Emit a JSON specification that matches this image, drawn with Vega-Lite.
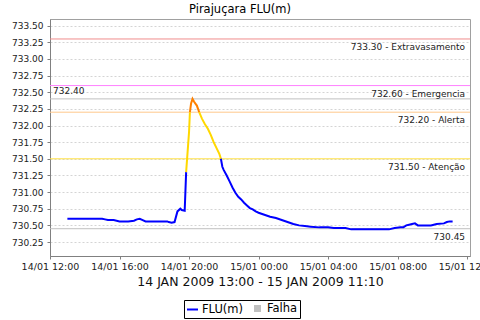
{
  "$schema": "https://vega.github.io/schema/vega-lite/v6.json",
  "width": 420,
  "height": 237,
  "autosize": {"type": "none"},
  "padding": {"left": 50, "top": 19, "right": 10, "bottom": 64},
  "background": "white",
  "title": {"text": "Pirajuçara FLU(m)", "font": "DejaVu Sans", "fontSize": 11.5, "fontWeight": "normal", "color": "#000000", "offset": 4, "dx": -20},
  "config": {
    "view": {"stroke": "#a0a0a0"},
    "axis": {"labelFont": "DejaVu Sans", "labelColor": "#222222", "titleFont": "DejaVu Sans", "titleColor": "#111111", "titleFontWeight": "normal", "domainColor": "#808080", "tickColor": "#808080", "tickSize": 3, "gridColor": "#d4d4d4", "gridDash": [2, 2], "labelOverlap": false},
    "axisY": {"labelFontSize": 9, "labelPadding": 4, "labelFlush": false, "tickCount": 20}
  },
  "datasets": {
    "limites": [
      {"valor": 733.30, "limite": "Extravasamento", "rotulo": "733.30 - Extravasamento"},
      {"valor": 732.60, "limite": "Emergencia", "rotulo": "732.60 - Emergencia"},
      {"valor": 732.40, "limite": "Máximo", "rotulo": "732.40"},
      {"valor": 732.20, "limite": "Alerta", "rotulo": "732.20 - Alerta"},
      {"valor": 731.50, "limite": "Atenção", "rotulo": "731.50 - Atenção"},
      {"valor": 730.45, "limite": "Mínimo", "rotulo": "730.45"}
    ],
    "serie": [
      {"t": "2009-01-14T13:00", "v": 730.60, "trecho": "a", "nivel": "Normal"},
      {"t": "2009-01-14T13:30", "v": 730.60, "trecho": "a", "nivel": "Normal"},
      {"t": "2009-01-14T14:00", "v": 730.60, "trecho": "a", "nivel": "Normal"},
      {"t": "2009-01-14T14:30", "v": 730.60, "trecho": "a", "nivel": "Normal"},
      {"t": "2009-01-14T15:00", "v": 730.60, "trecho": "a", "nivel": "Normal"},
      {"t": "2009-01-14T15:10", "v": 730.59, "trecho": "a", "nivel": "Normal"},
      {"t": "2009-01-14T15:20", "v": 730.58, "trecho": "a", "nivel": "Normal"},
      {"t": "2009-01-14T15:40", "v": 730.58, "trecho": "a", "nivel": "Normal"},
      {"t": "2009-01-14T15:50", "v": 730.57, "trecho": "a", "nivel": "Normal"},
      {"t": "2009-01-14T16:00", "v": 730.56, "trecho": "a", "nivel": "Normal"},
      {"t": "2009-01-14T16:30", "v": 730.56, "trecho": "a", "nivel": "Normal"},
      {"t": "2009-01-14T16:50", "v": 730.57, "trecho": "a", "nivel": "Normal"},
      {"t": "2009-01-14T17:00", "v": 730.59, "trecho": "a", "nivel": "Normal"},
      {"t": "2009-01-14T17:10", "v": 730.60, "trecho": "a", "nivel": "Normal"},
      {"t": "2009-01-14T17:20", "v": 730.58, "trecho": "a", "nivel": "Normal"},
      {"t": "2009-01-14T17:30", "v": 730.56, "trecho": "a", "nivel": "Normal"},
      {"t": "2009-01-14T18:00", "v": 730.56, "trecho": "a", "nivel": "Normal"},
      {"t": "2009-01-14T18:30", "v": 730.56, "trecho": "a", "nivel": "Normal"},
      {"t": "2009-01-14T18:45", "v": 730.56, "trecho": "a", "nivel": "Normal"},
      {"t": "2009-01-14T18:50", "v": 730.55, "trecho": "a", "nivel": "Normal"},
      {"t": "2009-01-14T19:00", "v": 730.54, "trecho": "a", "nivel": "Normal"},
      {"t": "2009-01-14T19:10", "v": 730.55, "trecho": "a", "nivel": "Normal"},
      {"t": "2009-01-14T19:20", "v": 730.71, "trecho": "a", "nivel": "Normal"},
      {"t": "2009-01-14T19:30", "v": 730.75, "trecho": "a", "nivel": "Normal"},
      {"t": "2009-01-14T19:35", "v": 730.73, "trecho": "a", "nivel": "Normal"},
      {"t": "2009-01-14T19:45", "v": 730.72, "trecho": "a", "nivel": "Normal"},
      {"t": "2009-01-14T19:50", "v": 731.30, "trecho": "a", "nivel": "Normal"},
      {"t": "2009-01-14T19:50", "v": 731.30, "trecho": "b", "nivel": "Atenção"},
      {"t": "2009-01-14T20:00", "v": 731.90, "trecho": "b", "nivel": "Atenção"},
      {"t": "2009-01-14T20:03", "v": 732.20, "trecho": "b", "nivel": "Atenção"},
      {"t": "2009-01-14T20:03", "v": 732.20, "trecho": "c", "nivel": "Alerta"},
      {"t": "2009-01-14T20:07", "v": 732.33, "trecho": "c", "nivel": "Alerta"},
      {"t": "2009-01-14T20:12", "v": 732.40, "trecho": "c", "nivel": "Alerta"},
      {"t": "2009-01-14T20:17", "v": 732.36, "trecho": "c", "nivel": "Alerta"},
      {"t": "2009-01-14T20:22", "v": 732.33, "trecho": "c", "nivel": "Alerta"},
      {"t": "2009-01-14T20:27", "v": 732.30, "trecho": "c", "nivel": "Alerta"},
      {"t": "2009-01-14T20:32", "v": 732.24, "trecho": "c", "nivel": "Alerta"},
      {"t": "2009-01-14T20:35", "v": 732.20, "trecho": "c", "nivel": "Alerta"},
      {"t": "2009-01-14T20:35", "v": 732.20, "trecho": "d", "nivel": "Atenção"},
      {"t": "2009-01-14T20:45", "v": 732.10, "trecho": "d", "nivel": "Atenção"},
      {"t": "2009-01-14T20:55", "v": 732.02, "trecho": "d", "nivel": "Atenção"},
      {"t": "2009-01-14T21:05", "v": 731.95, "trecho": "d", "nivel": "Atenção"},
      {"t": "2009-01-14T21:15", "v": 731.86, "trecho": "d", "nivel": "Atenção"},
      {"t": "2009-01-14T21:25", "v": 731.75, "trecho": "d", "nivel": "Atenção"},
      {"t": "2009-01-14T21:35", "v": 731.66, "trecho": "d", "nivel": "Atenção"},
      {"t": "2009-01-14T21:45", "v": 731.57, "trecho": "d", "nivel": "Atenção"},
      {"t": "2009-01-14T21:50", "v": 731.50, "trecho": "d", "nivel": "Atenção"},
      {"t": "2009-01-14T21:50", "v": 731.50, "trecho": "e", "nivel": "Normal"},
      {"t": "2009-01-14T21:55", "v": 731.38, "trecho": "e", "nivel": "Normal"},
      {"t": "2009-01-14T22:00", "v": 731.33, "trecho": "e", "nivel": "Normal"},
      {"t": "2009-01-14T22:10", "v": 731.25, "trecho": "e", "nivel": "Normal"},
      {"t": "2009-01-14T22:20", "v": 731.16, "trecho": "e", "nivel": "Normal"},
      {"t": "2009-01-14T22:30", "v": 731.07, "trecho": "e", "nivel": "Normal"},
      {"t": "2009-01-14T22:40", "v": 730.99, "trecho": "e", "nivel": "Normal"},
      {"t": "2009-01-14T22:50", "v": 730.93, "trecho": "e", "nivel": "Normal"},
      {"t": "2009-01-14T23:00", "v": 730.89, "trecho": "e", "nivel": "Normal"},
      {"t": "2009-01-14T23:10", "v": 730.84, "trecho": "e", "nivel": "Normal"},
      {"t": "2009-01-14T23:20", "v": 730.80, "trecho": "e", "nivel": "Normal"},
      {"t": "2009-01-14T23:30", "v": 730.76, "trecho": "e", "nivel": "Normal"},
      {"t": "2009-01-14T23:40", "v": 730.74, "trecho": "e", "nivel": "Normal"},
      {"t": "2009-01-14T23:50", "v": 730.71, "trecho": "e", "nivel": "Normal"},
      {"t": "2009-01-15T00:00", "v": 730.69, "trecho": "e", "nivel": "Normal"},
      {"t": "2009-01-15T00:20", "v": 730.66, "trecho": "e", "nivel": "Normal"},
      {"t": "2009-01-15T00:40", "v": 730.63, "trecho": "e", "nivel": "Normal"},
      {"t": "2009-01-15T01:00", "v": 730.61, "trecho": "e", "nivel": "Normal"},
      {"t": "2009-01-15T01:20", "v": 730.58, "trecho": "e", "nivel": "Normal"},
      {"t": "2009-01-15T01:40", "v": 730.55, "trecho": "e", "nivel": "Normal"},
      {"t": "2009-01-15T02:00", "v": 730.52, "trecho": "e", "nivel": "Normal"},
      {"t": "2009-01-15T02:20", "v": 730.50, "trecho": "e", "nivel": "Normal"},
      {"t": "2009-01-15T02:40", "v": 730.49, "trecho": "e", "nivel": "Normal"},
      {"t": "2009-01-15T03:00", "v": 730.48, "trecho": "e", "nivel": "Normal"},
      {"t": "2009-01-15T03:30", "v": 730.47, "trecho": "e", "nivel": "Normal"},
      {"t": "2009-01-15T04:00", "v": 730.47, "trecho": "e", "nivel": "Normal"},
      {"t": "2009-01-15T04:20", "v": 730.46, "trecho": "e", "nivel": "Normal"},
      {"t": "2009-01-15T05:00", "v": 730.46, "trecho": "e", "nivel": "Normal"},
      {"t": "2009-01-15T05:20", "v": 730.44, "trecho": "e", "nivel": "Normal"},
      {"t": "2009-01-15T06:00", "v": 730.44, "trecho": "e", "nivel": "Normal"},
      {"t": "2009-01-15T07:00", "v": 730.44, "trecho": "e", "nivel": "Normal"},
      {"t": "2009-01-15T07:30", "v": 730.44, "trecho": "e", "nivel": "Normal"},
      {"t": "2009-01-15T07:50", "v": 730.46, "trecho": "e", "nivel": "Normal"},
      {"t": "2009-01-15T08:10", "v": 730.47, "trecho": "e", "nivel": "Normal"},
      {"t": "2009-01-15T08:20", "v": 730.47, "trecho": "e", "nivel": "Normal"},
      {"t": "2009-01-15T08:30", "v": 730.50, "trecho": "e", "nivel": "Normal"},
      {"t": "2009-01-15T08:40", "v": 730.51, "trecho": "e", "nivel": "Normal"},
      {"t": "2009-01-15T08:50", "v": 730.52, "trecho": "e", "nivel": "Normal"},
      {"t": "2009-01-15T09:00", "v": 730.53, "trecho": "e", "nivel": "Normal"},
      {"t": "2009-01-15T09:10", "v": 730.50, "trecho": "e", "nivel": "Normal"},
      {"t": "2009-01-15T09:20", "v": 730.50, "trecho": "e", "nivel": "Normal"},
      {"t": "2009-01-15T09:40", "v": 730.50, "trecho": "e", "nivel": "Normal"},
      {"t": "2009-01-15T09:55", "v": 730.50, "trecho": "e", "nivel": "Normal"},
      {"t": "2009-01-15T10:05", "v": 730.51, "trecho": "e", "nivel": "Normal"},
      {"t": "2009-01-15T10:15", "v": 730.52, "trecho": "e", "nivel": "Normal"},
      {"t": "2009-01-15T10:40", "v": 730.53, "trecho": "e", "nivel": "Normal"},
      {"t": "2009-01-15T10:50", "v": 730.55, "trecho": "e", "nivel": "Normal"},
      {"t": "2009-01-15T11:00", "v": 730.56, "trecho": "e", "nivel": "Normal"},
      {"t": "2009-01-15T11:10", "v": 730.56, "trecho": "e", "nivel": "Normal"}
    ]
  },
  "layer": [
    {
      "data": {"name": "limites"},
      "mark": {"type": "rule", "strokeWidth": 1},
      "encoding": {
        "y": {"field": "valor", "type": "quantitative", "scale": {"domain": [730.04, 733.6], "nice": false, "zero": false},
          "axis": {"values": [730.25, 730.5, 730.75, 731, 731.25, 731.5, 731.75, 732, 732.25, 732.5, 732.75, 733, 733.25, 733.5],
            "tickCount": 20, "format": ".2f", "labelFontSize": 9, "labelPadding": 4, "labelOverlap": false, "labelFlush": false, "title": null}},
        "color": {"field": "limite", "type": "nominal", "legend": null,
          "scale": {"domain": ["Extravasamento", "Emergencia", "Máximo", "Alerta", "Atenção", "Mínimo"],
                    "range": ["#f08c8c", "#ff80ff", "#c0c0c0", "#ffc88c", "#ffe040", "#c0c0c0"]}}
      }
    },
    {
      "data": {"name": "limites"},
      "transform": [{"filter": "datum.limite !== 'Máximo'"}],
      "mark": {"type": "text", "align": "right", "baseline": "middle", "dx": -2, "dy": 8, "font": "DejaVu Sans", "fontSize": 9, "color": "#222222"},
      "encoding": {
        "x": {"datum": {"year": 2009, "month": 1, "date": 15, "hours": 12}, "type": "temporal"},
        "y": {"field": "valor", "type": "quantitative"},
        "text": {"field": "rotulo", "type": "nominal"}
      }
    },
    {
      "data": {"name": "limites"},
      "transform": [{"filter": "datum.limite === 'Máximo'"}],
      "mark": {"type": "text", "align": "left", "baseline": "middle", "dx": 3, "dy": -8, "font": "DejaVu Sans", "fontSize": 9, "color": "#222222"},
      "encoding": {
        "x": {"datum": {"year": 2009, "month": 1, "date": 14, "hours": 12}, "type": "temporal"},
        "y": {"field": "valor", "type": "quantitative"},
        "text": {"field": "rotulo", "type": "nominal"}
      }
    },
    {
      "data": {"name": "serie"},
      "mark": {"type": "line", "strokeWidth": 2},
      "encoding": {
        "x": {"field": "t", "type": "temporal",
          "scale": {"domain": [{"year": 2009, "month": 1, "date": 14, "hours": 12}, {"year": 2009, "month": 1, "date": 15, "hours": 12, "minutes": 10}], "nice": false},
          "axis": {"values": [
              {"year": 2009, "month": 1, "date": 14, "hours": 12},
              {"year": 2009, "month": 1, "date": 14, "hours": 16},
              {"year": 2009, "month": 1, "date": 14, "hours": 20},
              {"year": 2009, "month": 1, "date": 15, "hours": 0},
              {"year": 2009, "month": 1, "date": 15, "hours": 4},
              {"year": 2009, "month": 1, "date": 15, "hours": 8},
              {"year": 2009, "month": 1, "date": 15, "hours": 12}],
            "tickCount": 20, "format": "%d/%m %H:%M", "labelFontSize": 9.5, "labelPadding": 2, "labelOverlap": false, "labelFlush": false,
            "title": "14 JAN 2009 13:00 - 15 JAN 2009 11:10", "titleFontSize": 12.5, "titlePadding": 5}},
        "y": {"field": "v", "type": "quantitative",
          "scale": {"domain": [730.04, 733.6], "nice": false, "zero": false},
          "axis": {"values": [730.25, 730.5, 730.75, 731, 731.25, 731.5, 731.75, 732, 732.25, 732.5, 732.75, 733, 733.25, 733.5],
            "tickCount": 20, "format": ".2f", "labelFontSize": 9, "labelPadding": 4, "labelOverlap": false, "labelFlush": false, "title": null}},
        "color": {"field": "nivel", "type": "nominal", "legend": null,
          "scale": {"domain": ["Normal", "Atenção", "Alerta"], "range": ["#0000ff", "#ffd800", "#ff8000"]}},
        "detail": {"field": "trecho", "type": "nominal"}
      }
    },
    {
      "data": {"values": [{"serie": "FLU(m)"}, {"serie": "Falha"}]},
      "mark": {"type": "point", "filled": true, "opacity": 0},
      "encoding": {
        "color": {"field": "serie", "type": "nominal",
          "scale": {"domain": ["FLU(m)", "Falha"], "range": ["#0000ff", "#c0c0c0"]},
          "legend": {"title": null, "orient": "none", "legendX": 134, "legendY": 281, "direction": "horizontal",
            "strokeColor": "#000000", "fillColor": "#ffffff", "padding": 2, "labelFont": "DejaVu Sans", "labelFontSize": 11.5, "labelColor": "#000000",
            "columnPadding": 6, "labelOffset": 3, "symbolOpacity": 1,
            "encode": {"symbols": {"update": {
              "shape": {"signal": "datum.value === 'Falha' ? 'square' : 'stroke'"},
              "stroke": {"signal": "datum.value === 'Falha' ? 'transparent' : '#0000ff'"},
              "fill": {"signal": "datum.value === 'Falha' ? '#c0c0c0' : 'transparent'"},
              "strokeWidth": {"value": 2},
              "opacity": {"value": 1},
              "size": {"signal": "datum.value === 'Falha' ? 49 : 121"}}}}}}
      }
    }
  ],
  "resolve": {"scale": {"color": "independent"}}
}
